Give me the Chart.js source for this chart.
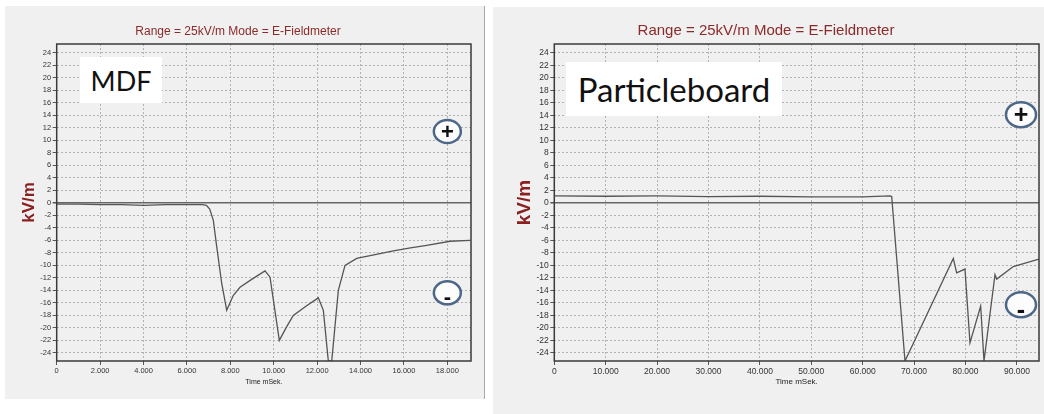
<!DOCTYPE html>
<html>
<head>
<meta charset="utf-8">
<script src="https://cdn.jsdelivr.net/npm/chart.js@4/dist/chart.umd.min.js"></script>
<style>
  body { margin:0; background:#fff; width:1044px; height:414px; overflow:hidden; position:relative; }
  .panel { position:absolute; background:#f0f0f0; }
  #leftPanel { left:5px; top:6px; width:479px; height:393px; border-right:1px solid #a8a8a8; }
  #rightPanel { left:493px; top:7px; width:551px; height:407px; }
  .tag { position:absolute; background:#fff; color:#111; font-family:Lato, "Open Sans", sans-serif;
         display:flex; align-items:center; justify-content:center; }
  #mdfTag { left:80px; top:57px; width:82px; height:46px; font-size:27px; }
  #pbTag { left:566px; top:62px; width:216px; height:54px; font-size:33px; }
</style>
</head>
<body>
<div class="panel" id="leftPanel"><canvas id="mdf"></canvas></div>
<div class="panel" id="rightPanel"><canvas id="pb"></canvas></div>
<div class="tag" id="mdfTag">MDF</div>
<div class="tag" id="pbTag">Particleboard</div>
<script>
// MDF measurement (time in ms, field in kV/m)
var mdfTime  = [0, 1000, 2000, 3000, 4000, 5000, 6000, 6700, 6900, 7050, 7217, 7373, 7604, 7834, 8140, 8447, 9000, 9599, 9829, 10258, 10599, 10903, 11500, 12055, 12286, 12516, 12673, 12977, 13286, 13825, 14500, 15512, 16300, 17051, 18125, 19046];
var mdfField = [-0.2, -0.2, -0.3, -0.3, -0.4, -0.3, -0.3, -0.3, -0.4, -1.0, -2.8, -7.0, -12.9, -17.2, -14.8, -13.5, -12.2, -10.9, -11.9, -22.0, -19.8, -18.0, -16.5, -15.2, -17.2, -25.3, -25.3, -14.0, -10.0, -8.9, -8.4, -7.7, -7.2, -6.8, -6.15, -6.0];
var mdfTimeTicks = [0, 2000, 4000, 6000, 8000, 10000, 12000, 14000, 16000, 18000];

// Particleboard measurement
var pbTime  = [0, 10000, 20000, 30000, 40000, 50000, 60000, 65300, 65640, 68230, 77630, 78280, 79900, 80870, 82950, 83600, 85740, 86070, 89300, 94300];
var pbField = [1.1, 1.05, 1.1, 1.0, 1.05, 0.95, 0.95, 1.1, 1.0, -25.3, -8.9, -11.2, -10.6, -22.4, -16.5, -25.3, -11.5, -12.2, -10.2, -9.0];
var pbTimeTicks = [0, 10000, 20000, 30000, 40000, 50000, 60000, 70000, 80000, 90000];

// polarity markers
var mdfSignTime = [18000, 18000], mdfSignField = [11.4, -14.4];
var pbSignTime  = [90800, 90800], pbSignField  = [14.1, -16.3];
var signText = ['+', '-'];

var titleText = 'Range = 25kV/m Mode = E-Fieldmeter';

function fmt(v){
  return String(v).replace(/\B(?=(\d{3})+(?!\d))/g, '.');
}

var framePlugin = {
  id: 'frame',
  afterDatasetsDraw: function(chart, args, o){
    var ctx = chart.ctx, a = chart.chartArea;
    ctx.save();
    ctx.strokeStyle = '#3a3a3a';
    ctx.lineWidth = 1.5;
    ctx.strokeRect(a.left, a.top, a.right - a.left, a.bottom - a.top);
    for (var i = 0; i < o.t.length; i++) {
      var x = chart.scales.x.getPixelForValue(o.t[i]);
      var y = chart.scales.y.getPixelForValue(o.v[i]);
      ctx.beginPath();
      ctx.ellipse(x, y, o.rx, o.ry, 0, 0, Math.PI * 2);
      ctx.fillStyle = '#fcfcfc';
      ctx.fill();
      ctx.lineWidth = 2.5;
      ctx.strokeStyle = '#4d6789';
      ctx.stroke();
      ctx.fillStyle = '#111';
      ctx.font = 'bold ' + o.fs + 'px "Liberation Sans", Arial';
      ctx.textAlign = 'center';
      ctx.textBaseline = 'middle';
      if (signText[i] == '+') ctx.fillText('+', x, y + 1);
      else ctx.fillText('-', x, y + o.fs * 0.25);
    }
    ctx.restore();
  }
};

function makeChart(id, cfg){
  var pts = cfg.time.map(function(t, i){ return {x: t, y: cfg.field[i]}; });
  return new Chart(document.getElementById(id), {
    type: 'line',
    data: { datasets: [{
      data: pts,
      borderColor: '#555',
      borderWidth: 1.3,
      pointRadius: 0,
      tension: 0,
      fill: false
    }]},
    plugins: [framePlugin],
    options: {
      responsive: true,
      maintainAspectRatio: false,
      animation: false,
      layout: { padding: { left: 0, right: cfg.padRight, top: 0, bottom: cfg.padBottom } },
      plugins: {
        legend: { display: false },
        tooltip: { enabled: false },
        title: {
          display: true,
          text: titleText,
          color: '#8b2a2a',
          font: { family: '"Liberation Sans", Arial', size: cfg.titleSize, weight: 'normal' },
          padding: { top: cfg.titleTop, bottom: cfg.titleBottom }
        },
        frame: { t: cfg.signT, v: cfg.signV, rx: cfg.rx, ry: cfg.ry, fs: cfg.signSize }
      },
      scales: {
        x: {
          type: 'linear',
          min: 0,
          max: cfg.xMax,
          afterFit: function(s){ s.height = 38; },
          afterBuildTicks: function(s){
            s.ticks = cfg.xTicks.map(function(v){ return {value: v}; });
          },
          ticks: {
            autoSkip: false,
            maxRotation: 0,
            padding: 1.5,
            color: '#333',
            font: { family: '"Liberation Sans", Arial', size: cfg.tickSize },
            callback: function(v){ return fmt(v); }
          },
          grid: { color: '#b2b2b2', tickLength: 4, tickColor: '#555' },
          border: { display: false, dash: [2, 2] },
          title: {
            display: true,
            text: 'Time mSek.',
            color: '#222',
            font: { family: '"Liberation Sans", Arial', size: cfg.axisSize },
            padding: { top: 0, bottom: 12.8 }
          }
        },
        y: {
          min: -25.3,
          max: 25.4,
          afterFit: function(s){ s.width = cfg.yWidth; },
          ticks: {
            stepSize: 2,
            includeBounds: false,
            autoSkip: false,
            padding: 1.5,
            color: '#333',
            font: { family: '"Liberation Sans", Arial', size: cfg.tickSize }
          },
          grid: {
            color: function(c){ return c.tick && c.tick.value === 0 ? '#666' : '#b2b2b2'; },
            lineWidth: function(c){ return c.tick && c.tick.value === 0 ? 1.5 : 1; },
            tickLength: 4,
            tickColor: '#555'
          },
          border: {
            display: false,
            dash: function(c){ return c.tick && c.tick.value === 0 ? [] : [2, 2]; }
          },
          title: {
            display: true,
            text: 'kV/m',
            color: '#8a2020',
            font: { family: '"Liberation Sans", Arial', size: cfg.unitSize, weight: 'bold' },
            padding: { top: cfg.unitPad, bottom: 0 }
          }
        }
      }
    }
  });
}

makeChart('mdf', {
  time: mdfTime, field: mdfField, xTicks: mdfTimeTicks,
  xMax: 19090,
  padRight: 13, padBottom: 0, yWidth: 51.7,
  titleSize: 12, titleTop: 18.5, titleBottom: 5.1,
  tickSize: 7.5, axisSize: 7, unitSize: 17, unitPad: 13.8,
  signT: mdfSignTime, signV: mdfSignField, rx: 13.5, ry: 11.5, signSize: 22
});

makeChart('pb', {
  time: pbTime, field: pbField, xTicks: pbTimeTicks,
  xMax: 94300,
  padRight: 5, padBottom: 15, yWidth: 61.3,
  titleSize: 15, titleTop: 14.7, titleBottom: 4.3,
  tickSize: 8.5, axisSize: 8, unitSize: 19, unitPad: 20.8,
  signT: pbSignTime, signV: pbSignField, rx: 15, ry: 12.5, signSize: 25
});
</script>
</body>
</html>
